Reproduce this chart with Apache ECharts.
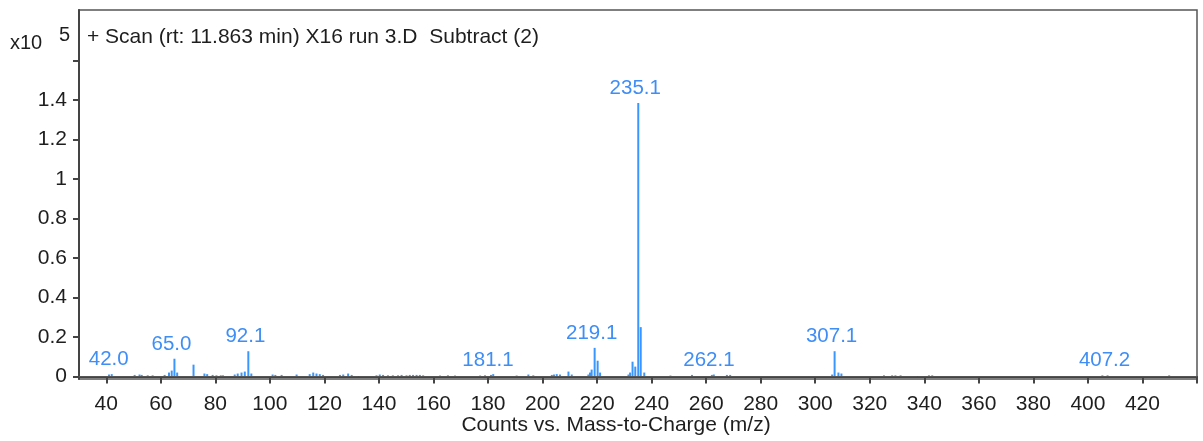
<!DOCTYPE html>
<html>
<head>
<meta charset="utf-8">
<script src="https://cdn.jsdelivr.net/npm/echarts@6/dist/echarts.min.js"></script>
<style>
html,body{margin:0;padding:0;background:#fff;}
#chart{width:1203px;height:441px;}
</style>
</head>
<body>
<div id="chart"></div>
<script>
// m/z values of the peaks
const mzValues = [
  41.0, 42.0, 50.4, 52.2, 53.0, 55.2, 57.0, 61.4, 63.0, 64.0, 65.0, 66.0, 72.0,
  76.0, 77.0, 79.0, 80.4, 82.0, 82.8, 87.1, 88.2, 89.6, 90.8, 92.1, 93.2,
  101.0, 102.0, 104.3, 109.8, 114.6, 115.9, 117.1, 118.3, 119.5,
  125.7, 126.9, 128.7, 130.0, 139.1, 140.3, 141.5, 143.3, 145.1, 147.0, 148.3,
  150.1, 151.3, 152.5, 153.8, 155.0, 156.2, 162.4, 165.3, 167.9,
  177.1, 178.9, 181.1, 181.9, 190.5, 194.8, 196.6, 203.4, 204.2, 205.2, 206.4,
  209.5, 210.7, 216.8, 217.4, 218.0, 219.1, 220.2, 221.1,
  231.5, 232.1, 233.0, 234.0, 235.1, 236.0, 237.3,
  246.9, 254.8, 262.1, 262.8, 267.6, 268.8,
  306.2, 307.1, 308.5, 309.6, 325.2, 328.2, 329.4, 331.3, 341.7, 342.9,
  405.3, 407.2, 429.8
];
// intensities (x10^5 counts)
const intensities = [
  0.010, 0.012, 0.008, 0.010, 0.008, 0.006, 0.006, 0.008, 0.020, 0.030, 0.090, 0.020, 0.060,
  0.015, 0.012, 0.008, 0.006, 0.006, 0.006, 0.010, 0.015, 0.020, 0.025, 0.128, 0.015,
  0.010, 0.008, 0.008, 0.010, 0.012, 0.020, 0.015, 0.012, 0.008,
  0.008, 0.010, 0.015, 0.008, 0.006, 0.010, 0.008, 0.006, 0.006, 0.006, 0.008,
  0.006, 0.008, 0.008, 0.008, 0.008, 0.006, 0.005, 0.006, 0.005,
  0.005, 0.006, 0.008, 0.012, 0.005, 0.010, 0.006, 0.008, 0.010, 0.012, 0.010,
  0.025, 0.010, 0.010, 0.020, 0.035, 0.145, 0.080, 0.020,
  0.010, 0.020, 0.075, 0.050, 1.385, 0.250, 0.020,
  0.005, 0.008, 0.008, 0.010, 0.008, 0.008,
  0.010, 0.128, 0.020, 0.015, 0.006, 0.006, 0.006, 0.006, 0.006, 0.006,
  0.006, 0.006, 0.006
];
// annotated peaks
const labelledMz = [42.0, 65.0, 92.1, 181.1, 219.1, 235.1, 262.1, 307.1, 407.2];

const xTicks = [40, 60, 80, 100, 120, 140, 160, 180, 200, 220, 240, 260, 280, 300, 320, 340, 360, 380, 400, 420, 440];
const xTickLabels = [40, 60, 80, 100, 120, 140, 160, 180, 200, 220, 240, 260, 280, 300, 320, 340, 360, 380, 400, 420];
const yTicks = [0, 0.2, 0.4, 0.6, 0.8, 1.0, 1.2, 1.4, 1.6];
const yTickLabels = [0, 0.2, 0.4, 0.6, 0.8, 1.0, 1.2, 1.4];

const titleText = '+ Scan (rt: 11.863 min) X16 run 3.D  Subtract (2)';
const xAxisTitle = 'Counts vs. Mass-to-Charge (m/z)';

const FONT = '"Liberation Sans", Arial, sans-serif';
const TXT = '#1e1e1e';
const BAR = '#3a96ff';
const LBL = '#3f8ef5';

const seriesData = mzValues.map((mz, i) => {
  const item = { value: [mz, intensities[i]] };
  if (labelledMz.indexOf(mz) >= 0) {
    item.label = { show: true };
  }
  return item;
});

const chart = echarts.init(document.getElementById('chart'), null, { renderer: 'canvas' });
chart.setOption({
  animation: false,
  backgroundColor: '#fff',
  grid: {
    left: 79, right: 6, top: 10, bottom: 62,
    outerBoundsMode: 'none', containLabel: false,
    show: true, borderColor: '#555', borderWidth: 1.5, backgroundColor: 'transparent'
  },
  title: {
    text: titleText, left: 82, top: 22,
    textStyle: { fontFamily: FONT, fontSize: 21, fontWeight: 'normal', color: TXT }
  },
  graphic: [
    { type: 'text', left: 10, top: 33, style: { text: 'x10', font: '20px ' + FONT, fill: TXT } },
    { type: 'text', left: 59, top: 25, style: { text: '5', font: '20px ' + FONT, fill: TXT } },
    { type: 'text', x: 616, y: 425, style: { text: xAxisTitle, font: '21px ' + FONT, fill: TXT, align: 'center', verticalAlign: 'middle' } }
  ],
  xAxis: {
    type: 'value', min: 30, max: 440,
    axisLine: { show: true, lineStyle: { color: '#444', width: 2 } },
    axisTick: { show: true, length: 7, customValues: xTicks, lineStyle: { color: '#444', width: 2 } },
    axisLabel: {
      customValues: xTickLabels, margin: 15,
      fontFamily: FONT, fontSize: 21, color: TXT,
      formatter: v => String(Math.round(v))
    },
    splitLine: { show: false }
  },
  yAxis: {
    type: 'value', min: -0.01266, max: 1.8557,
    axisLine: { show: true, lineStyle: { color: '#444', width: 2 } },
    axisTick: { show: true, length: 6, customValues: yTicks, lineStyle: { color: '#444', width: 2 } },
    axisLabel: {
      customValues: yTickLabels, margin: 12,
      fontFamily: FONT, fontSize: 21, color: TXT,
      formatter: v => String(parseFloat(v.toFixed(1)))
    },
    splitLine: { show: false }
  },
  series: [{
    type: 'bar',
    barWidth: 2,
    itemStyle: { color: BAR },
    label: {
      show: false, position: 'top', distance: 4, offset: [-3, 0],
      fontFamily: FONT, fontSize: 20.5, color: LBL,
      formatter: p => p.value[0].toFixed(1)
    },
    data: seriesData,
    markLine: {
      silent: true, symbol: 'none', label: { show: false },
      lineStyle: { color: '#555', width: 1, type: 'solid' },
      data: [{ yAxis: 0 }]
    }
  }]
});
</script>
</body>
</html>
